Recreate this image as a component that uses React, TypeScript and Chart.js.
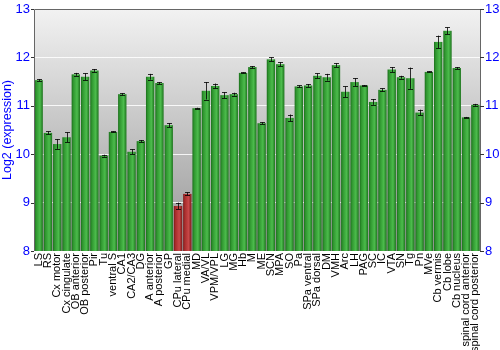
import React, { useEffect, useRef } from "react";
import { Chart, registerables } from "chart.js";

Chart.register(...registerables);

const regions = [
  "LS", "RS", "Cx motor", "Cx cingulate", "OB anterior", "OB posterior", "Pir", "Tu",
  "ventral S", "CA1", "CA2/CA3", "DG", "A anterior", "A posterior", "GP", "CPu lateral",
  "CPu medial", "MD", "VA/VL", "VPM/VPL", "LG", "MG", "Hb", "M", "ME", "SCN", "MPA", "SO",
  "Pa", "SPa ventral", "SPa dorsal", "DM", "VMH", "Arc", "LH", "PAG", "SC", "IC", "VTA",
  "SN", "Tg", "Pn", "MVe", "Cb vermis", "Cb lobe", "Cb nucleus", "spinal cord anterior",
  "spinal cord posterior",
];

const expression = [
  11.53, 10.44, 10.21, 10.35, 11.65, 11.6, 11.73, 9.97,
  10.46, 11.24, 10.05, 10.27, 11.6, 11.47, 10.6, 8.93,
  9.18, 10.95, 11.31, 11.41, 11.22, 11.24, 11.68, 11.8, 10.64, 11.96, 11.86, 10.75,
  11.4, 11.42, 11.62, 11.59, 11.84, 11.29, 11.49, 11.42, 11.08, 11.33, 11.75,
  11.59, 11.57, 10.86, 11.7, 12.32, 12.55, 11.78, 10.76,
  11.02,
];

const errors = [
  0.02, 0.03, 0.1, 0.1, 0.03, 0.07, 0.03, 0.02,
  0.01, 0.02, 0.05, 0.02, 0.06, 0.02, 0.04, 0.07,
  0.03, 0.01, 0.18, 0.05, 0.06, 0.03, 0.01, 0.02, 0.02, 0.04, 0.04, 0.07,
  0.02, 0.03, 0.05, 0.07, 0.04, 0.11, 0.08, 0.01, 0.06, 0.03, 0.05,
  0.03, 0.22, 0.06, 0.01, 0.13, 0.07, 0.02, 0.01,
  0.02,
];

const highlighted = ["CPu lateral", "CPu medial"];

const yTicks = [8, 9, 10, 11, 12, 13];

export default function App() {
  const ref = useRef<HTMLCanvasElement>(null);

  useEffect(() => {
    if (!ref.current) return;

    const bgPlugin = {
      id: "bg",
      beforeDraw(chart: any) {
        const { ctx, chartArea: a } = chart;
        const g = ctx.createLinearGradient(0, a.top, 0, a.bottom);
        g.addColorStop(0, "#f2f2f2");
        g.addColorStop(1, "#969696");
        ctx.save();
        ctx.fillStyle = g;
        ctx.fillRect(a.left, a.top, a.right - a.left, a.bottom - a.top);
        ctx.restore();
      },
    };

    const barPlugin = {
      id: "bars",
      afterDatasetsDraw(chart: any) {
        const { ctx } = chart;
        const a = chart.chartArea;
        const meta = chart.getDatasetMeta(0);
        const yScale = chart.scales.y;
        ctx.save();
        meta.data.forEach((bar: any, i: number) => {
          const red = highlighted.includes(regions[i]);
          const w = bar.width;
          const left = bar.x - w / 2;
          const top = bar.y;
          const bottom = Math.min(bar.base, a.bottom);
          const g = ctx.createLinearGradient(left, 0, left + w, 0);
          if (red) {
            g.addColorStop(0, "#7a1a1a");
            g.addColorStop(0.2, "#a82c2c");
            g.addColorStop(0.65, "#c84848");
            g.addColorStop(1, "#7a1a1a");
          } else {
            g.addColorStop(0, "#1b6e1b");
            g.addColorStop(0.2, "#2f962f");
            g.addColorStop(0.65, "#4cbc4c");
            g.addColorStop(1, "#1d731d");
          }
          ctx.fillStyle = g;
          ctx.fillRect(left, top, w, bottom - top);

          // error bar
          const v = expression[i];
          const e = errors[i];
          const yHi = yScale.getPixelForValue(v + e);
          const yLo = yScale.getPixelForValue(v - e);
          ctx.strokeStyle = "rgba(0,0,0,0.8)";
          ctx.lineWidth = 1;
          ctx.beginPath();
          ctx.moveTo(Math.round(bar.x) + 0.5, yHi);
          ctx.lineTo(Math.round(bar.x) + 0.5, yLo);
          ctx.moveTo(Math.round(bar.x) - 2, Math.round(yHi) + 0.5);
          ctx.lineTo(Math.round(bar.x) + 3, Math.round(yHi) + 0.5);
          ctx.moveTo(Math.round(bar.x) - 2, Math.round(yLo) + 0.5);
          ctx.lineTo(Math.round(bar.x) + 3, Math.round(yLo) + 0.5);
          ctx.stroke();
        });
        // frame
        ctx.strokeStyle = "#666666";
        ctx.lineWidth = 1;
        ctx.beginPath();
        ctx.moveTo(Math.round(a.left) + 0.5, a.bottom);
        ctx.lineTo(Math.round(a.left) + 0.5, Math.round(a.top) + 0.5);
        ctx.lineTo(Math.round(a.right) + 0.5, Math.round(a.top) + 0.5);
        ctx.lineTo(Math.round(a.right) + 0.5, a.bottom);
        ctx.stroke();
        ctx.restore();
      },
    };

    const chart = new Chart(ref.current, {
      type: "bar",
      data: {
        labels: regions,
        datasets: [
          {
            data: expression,
            backgroundColor: "rgba(0,0,0,0)",
            borderWidth: 0,
            barPercentage: 0.9,
            categoryPercentage: 1,
          },
        ],
      },
      options: {
        animation: false,
        responsive: false,
        maintainAspectRatio: false,
        layout: { padding: { top: 9, left: 0, right: 0, bottom: 0 } },
        plugins: {
          legend: { display: false },
          tooltip: { enabled: false },
        },
        scales: {
          x: {
            grid: { display: false, drawTicks: false },
            border: { display: false },
            ticks: {
              autoSkip: false,
              minRotation: 90,
              maxRotation: 90,
              padding: 2,
              color: "#000000",
              font: { family: "'Liberation Sans', Arial, sans-serif", size: 11 },
            },
            afterFit(s: any) {
              s.height = 99;
              s.paddingLeft = 0;
              s.paddingRight = 0;
            },
          },
          y: {
            min: 8,
            max: 13,
            position: "left",
            afterBuildTicks(s: any) {
              s.ticks = yTicks.map((v) => ({ value: v }));
            },
            grid: {
              color: (c: any) =>
                c.tick && (c.tick.value === 8 || c.tick.value === 13)
                  ? "rgba(0,0,0,0)"
                  : "rgba(255,255,255,0.85)",
              lineWidth: 1,
              drawTicks: false,
            },
            border: { display: false },
            ticks: {
              padding: 4,
              color: "#0000ff",
              font: { family: "'Liberation Sans', Arial, sans-serif", size: 13 },
            },
            title: {
              display: true,
              text: "Log2 (expression)",
              color: "#0000ff",
              font: { family: "'Liberation Sans', Arial, sans-serif", size: 12.5 },
              padding: { top: 0, bottom: 0 },
            },
            afterFit(s: any) {
              s.width = 34;
              s.paddingTop = 0;
              s.paddingBottom = 0;
            },
          },
          y2: {
            min: 8,
            max: 13,
            position: "right",
            afterBuildTicks(s: any) {
              s.ticks = yTicks.map((v) => ({ value: v }));
            },
            grid: { drawOnChartArea: false, drawTicks: false },
            border: { display: false },
            ticks: {
              padding: 5,
              color: "#0000ff",
              font: { family: "'Liberation Sans', Arial, sans-serif", size: 13 },
            },
            afterFit(s: any) {
              s.width = 20;
              s.paddingTop = 0;
              s.paddingBottom = 0;
            },
          },
        },
      },
      plugins: [
        bgPlugin,
        barPlugin,
        {
          id: "tickmarks",
          afterDraw(chart: any) {
            const { ctx, chartArea: a } = chart;
            const y = chart.scales.y;
            ctx.save();
            ctx.strokeStyle = "#333333";
            ctx.lineWidth = 1;
            ctx.beginPath();
            yTicks.forEach((v) => {
              const p = Math.round(y.getPixelForValue(v)) + 0.5;
              ctx.moveTo(a.left - 3, p);
              ctx.lineTo(a.left, p);
              ctx.moveTo(a.right, p);
              ctx.lineTo(a.right + 4, p);
            });
            ctx.stroke();
            ctx.restore();
          },
        },
      ],
    });
    return () => chart.destroy();
  }, []);

  return (
    <div style={{ position: "absolute", left: 0, top: 0, width: 500, height: 350 }}>
      <canvas ref={ref} width={500} height={350} style={{ width: 500, height: 350 }} />
    </div>
  );
}
